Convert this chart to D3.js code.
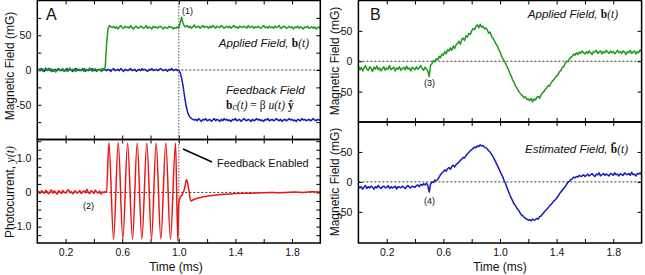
<!DOCTYPE html>
<html>
<head>
<meta charset="utf-8">
<title>Applied and feedback field traces</title>
<script src="https://d3js.org/d3.v7.min.js"></script>
<style>
    body { margin: 0; background: #fff; }
    svg { font-family: "Liberation Sans", Arial, sans-serif; }
    .frame { fill: none; stroke: #000; stroke-width: 1.5px; }
    .axis text { font-size: 10.5px; fill: #111; }
    .axis line { stroke: #000; stroke-width: 1px; }
    .zero { stroke: #000; stroke-width: 0.8px; stroke-dasharray: 2,2; }
    .trace { fill: none; stroke-width: 1.5px; stroke-linejoin: round; }
    .title { font-size: 12px; fill: #111; }
    .note { font-size: 11.5px; fill: #111; font-style: italic; }
    .tag { font-size: 9px; fill: #111; }
    .serif { font-family: "Liberation Serif", "DejaVu Serif", serif; }
</style>
</head>
<body>
<script>
    // sample grid of the scope traces, ms (one sample every 0.01 ms)
    var sampleTimes = d3.range(0, 201).map(function(i) { return i / 100; });

    // panel A, applied field b(t), mG
    var appliedA = [
        1,-1,2,0,-2,1,3,-1,0,2, -2,1,0,-3,1,2,-1,0,2,-1, 1,-2,0,3,-1,1,0,-2,2,1,
        -1,0,2,-2,1,0,-1,3,0,-2, 1,2,-1,0,1,-2,2,0,
        4,38,60,64,62,
        61,63,60,62,59,62,64,61,60,63, 61,62,60,64,61,59,62,63,60,61, 63,62,60,61,64,60,62,61,59,63,
        61,62,60,62,63,61,59,62,61,60, 63,61,62,59,61,60,62,
        60,68,76,67,63,
        62,64,61,63,60,62,65,61,62,63, 60,62,64,61,63,62,60,63,61,64,
        62,60,63,62,61,64,62,60,62,63, 61,63,60,62,64,61,62,60,63,62,
        61,63,62,60,64,61,62,63,60,62, 61,63,61,60,62,64,61,62,60,63,
        61,62,60,63,61,62,64,60,61,63, 62,60,61,63,61,62,59,62,61,63,
        60,62,61,59,62,61,63,60,61,62, 60,62,59,61,62,60
    ];

    // panel A, feedback field b_c(t), mG
    var feedbackA = [
        0,1,-1,2,0,-2,1,0,2,-1, 1,-2,0,1,-1,2,0,-1,1,-2, 0,2,-1,1,0,-2,1,2,-1,0,
        1,-1,0,2,-2,1,-1,0,1,2, -1,0,-2,1,0,1,-1,2,0,-1, 1,0,-2,1,2,-1,0,1,-1,2,
        0,-2,1,0,-1,1,2,-1,0,1, -2,0,1,-1,2,0,1,-1,-2,1, 0,2,-1,0,1,-1,0,2,1,-1,
        0,1,-2,1,0,2,-1,0,1,-1, 0,
        -4,-12,-23,-37,-50,-59,-65,-68,-70,-71,
        -72,-71,-73,-70,-72,-74,-71,-72,-70,-73, -72,-71,-74,-72,-70,-73,-71,-72,-74,-71,
        -73,-70,-72,-71,-73,-72,-74,-71,-72,-70, -73,-72,-71,-74,-72,-70,-72,-73,-71,-72,
        -74,-71,-73,-72,-70,-72,-71,-73,-72,-74, -71,-72,-70,-73,-72,-71,-73,-72,-70,-72,
        -73,-71,-74,-72,-71,-73,-72,-70,-72,-71, -73,-72,-74,-71,-72,-73,-70,-72,-71,-73,
        -72,-71,-73,-72,-70,-72,-73,-71,-72,-72
    ];

    // panel A, photocurrent y(t): quiet part sampled every 0.01 ms
    var photoQuiet = [
        0.00,0.03,-0.02,0.05,0.01,-0.03,0.06,0.02,-0.04,0.03,
        0.07,-0.02,0.04,0.00,-0.05,0.05,0.02,-0.03,0.06,0.01,
        -0.02,0.04,0.08,-0.01,0.03,-0.04,0.02,0.05,-0.02,0.01,
        0.06,-0.03,0.02,0.04,-0.01,0.09,0.00,-0.04,0.05,0.02,
        -0.03,0.07,0.01,-0.02,0.04,-0.05,0.02,-0.01
    ];
    // then the precession and the feedback transient, [ms, value]
    var photoSwing = [
        [0.48, 0.03], [0.489, 0.0], [0.506, 1.46], [0.539, -1.37], [0.572, 1.46], [0.605, -1.37],
        [0.638, 1.45], [0.673, -1.37], [0.706, 1.45], [0.739, -1.37], [0.774, 1.45], [0.807, -1.37],
        [0.840, 1.45], [0.873, -1.37], [0.908, 1.45], [0.941, -1.37], [0.977, 1.45], [0.993, -1.42],
        [1.000, -0.30], [1.010, -0.15], [1.025, -0.05], [1.040, 0.10], [1.055, 0.38], [1.070, 0.10],
        [1.085, -0.25], [1.10, -0.22], [1.13, -0.17], [1.17, -0.13], [1.22, -0.10], [1.28, -0.07],
        [1.34, -0.05], [1.40, -0.03], [1.46, -0.02], [1.52, -0.02], [1.58, -0.01], [1.64, 0.0],
        [1.70, -0.01], [1.76, 0.0], [1.82, 0.01], [1.88, 0.0], [1.94, 0.02], [2.0, 0.01]
    ];

    // panel B, applied field b(t), mG
    var appliedB = [
        -8,-14,-10,-16,-11,-7,-13,-15,-9,-12, -17,-10,-13,-8,-14,-11,-16,-12,-9,-15,
        -11,-13,-7,-14,-12,-10,-16,-11,-13,-9, -15,-12,-10,-14,-8,-13,-11,-16,-10,-12,
        -14,-9,-13,-11,-7,-12,-15,-10,
        -12,-16,-25,-6,-4,1,-1,4,2,8,6,12,10,
        16,12,19,17,22,18,25,21,27,29,
        33,28,36,38,34,42,40,46,44,50,
        54,52,57,60,55,61,56,58,53,55,
        52,46,48,41,38,34,29,26,20,16,
        9,4,1,-4,-9,-14,-20,-25,-31,-35,
        -41,-44,-49,-52,-55,-57,-60,-58,-63,-62,
        -65,-61,-67,-62,-64,-59,-58,-61,-55,-52,
        -50,-46,-44,-40,-41,-36,-33,-30,-27,-24,
        -22,-17,-15,-10,-9,-4,0,-1,4,6,
        8,12,10,14,11,15,13,17,14,12,
        16,13,17,14,11,16,15,18,13,15, 17,12,16,14,18,15,13,17,14,16,
        12,15,18,14,16,13,17,15,11,16, 14,18,13,15,17,12,16,14,19,15
    ];

    // panel B, estimated field, mG
    var estimatedB = [
        -7,-10,-8,-12,-9,-6,-11,-8,-10,-7, -9,-12,-8,-10,-6,-9,-11,-8,-7,-10,
        -9,-6,-11,-8,-10,-9,-7,-12,-8,-9, -10,-7,-9,-11,-8,-6,-9,-10,-7,-8,
        -9,-6,-5,-8,-4,-6,-3,-5,
        -2,-6,-17,-3,0,-1,3,2,4,8,12,15,17,
        20,18,22,24,21,26,28,25,29,31,
        33,36,38,41,40,44,47,49,52,54,
        56,58,57,60,59,62,60,61,58,57,
        55,52,50,46,42,38,33,28,23,18,
        13,8,2,-3,-10,-16,-22,-27,-32,-37,
        -40,-44,-47,-51,-55,-56,-59,-61,-62,-64,
        -63,-65,-62,-64,-63,-61,-62,-58,-57,-54,
        -51,-48,-46,-43,-40,-38,-35,-32,-30,-27,
        -24,-20,-17,-14,-11,-8,-4,-1,1,4,
        5,8,7,9,8,11,9,10,12,9,
        11,13,10,12,14,11,9,13,12,15, 10,12,14,11,13,12,10,14,13,11,
        15,12,13,10,14,12,11,15,13,12, 14,11,16,12,13,10,14,13,15,12
    ];

    var timeTicks = [0.2, 0.4, 0.6, 0.8, 1.0, 1.2, 1.4, 1.6, 1.8];
    var timeLabels = [0.2, 0.6, 1.0, 1.4, 1.8];
    var fieldTicksA = [-75, -50, -25, 0, 25, 50, 75];
    var fieldLabels = [-50, 0, 50];
    var photoTicks = [-1.25, -1, -0.75, -0.5, -0.25, 0, 0.25, 0.5, 0.75, 1, 1.25, 1.5];
    var photoLabels = [-1, 0, 1];
    var fieldTicksB = [-50, 0, 50];

    var width = 645, height = 275;
    var svg = d3.select("body").append("svg")
        .attr("width", width)
        .attr("height", height);

    var xA = d3.scaleLinear().domain([0, 2]).range([37.3, 320.3]);
    var xB = d3.scaleLinear().domain([0, 2]).range([358.4, 641.6]);
    var yAtop = d3.scaleLinear().domain([-100, 100]).range([139.5, 0.5]);
    var yAbot = d3.scaleLinear().domain([-1.48, 1.55]).range([243, 139.5]);
    var yBtop = d3.scaleLinear().domain([-100, 100]).range([122, 0.5]);
    var yBbot = d3.scaleLinear().domain([-102, 100]).range([243, 122]);

    function fmtTime(v) {
        return timeLabels.some(function(l) { return Math.abs(l - v) < 1e-6; }) ? v.toFixed(1) : "";
    }

    var clipId = 0;

    // one boxed subplot, ticks inside on all four sides
    function subplot(x, y, yTicks, yFmt, showTime) {
        var x0 = x.range()[0], x1 = x.range()[1];
        var y0 = y.range()[1], y1 = y.range()[0];
        var g = svg.append("g");

        g.append("line").attr("class", "zero")
            .attr("x1", x0).attr("x2", x1)
            .attr("y1", y(0)).attr("y2", y(0));

        g.append("g").attr("class", "axis")
            .attr("transform", "translate(" + x0 + ",0)")
            .call(d3.axisLeft(y).tickValues(yTicks).tickSize(-4).tickPadding(6).tickFormat(yFmt))
            .call(function(a) { a.select(".domain").remove(); });
        g.append("g").attr("class", "axis")
            .attr("transform", "translate(" + x1 + ",0)")
            .call(d3.axisRight(y).tickValues(yTicks).tickSize(-4).tickFormat(""))
            .call(function(a) { a.select(".domain").remove(); });
        g.append("g").attr("class", "axis")
            .attr("transform", "translate(0," + y0 + ")")
            .call(d3.axisTop(x).tickValues(timeTicks).tickSize(-4).tickFormat(""))
            .call(function(a) { a.select(".domain").remove(); });
        g.append("g").attr("class", "axis")
            .attr("transform", "translate(0," + y1 + ")")
            .call(d3.axisBottom(x).tickValues(timeTicks).tickSize(-4).tickPadding(6)
                .tickFormat(showTime ? fmtTime : ""))
            .call(function(a) { a.select(".domain").remove(); });

        var id = "clip" + (clipId++);
        svg.append("clipPath").attr("id", id)
            .append("rect")
            .attr("x", x0).attr("y", y0)
            .attr("width", x1 - x0).attr("height", y1 - y0);

        var plot = svg.append("g").attr("clip-path", "url(#" + id + ")");

        svg.append("rect").attr("class", "frame")
            .attr("x", x0).attr("y", y0)
            .attr("width", x1 - x0).attr("height", y1 - y0);

        return plot;
    }

    function fieldFmt(v) { return fieldLabels.indexOf(v) >= 0 ? String(v) : ""; }
    function photoFmt(v) {
        if (photoLabels.indexOf(v) < 0) return "";
        return v === 0 ? "0" : v.toFixed(1);
    }

    function sampled(plot, x, y, values, color) {
        plot.append("path")
            .datum(values)
            .attr("class", "trace")
            .attr("stroke", color)
            .attr("d", d3.line()
                .x(function(d, i) { return x(sampleTimes[i]); })
                .y(function(d) { return y(d); }));
    }

    var green = "#1e9a1e", blue = "#1a1ab4", red = "#ee1515";

    // panel A
    var pA1 = subplot(xA, yAtop, fieldTicksA, fieldFmt, false);
    sampled(pA1, xA, yAtop, feedbackA, blue);
    sampled(pA1, xA, yAtop, appliedA, green);

    var pA2 = subplot(xA, yAbot, photoTicks, photoFmt, true);
    var photo = photoQuiet.map(function(v, i) { return [sampleTimes[i], v]; }).concat(photoSwing);
    pA2.append("path")
        .datum(photo)
        .attr("class", "trace")
        .attr("stroke", red)
        .attr("d", d3.line()
            .curve(d3.curveMonotoneX)
            .x(function(d) { return xA(d[0]); })
            .y(function(d) { return yAbot(d[1]); }));

    // feedback switched on at 1.0 ms
    svg.append("line")
        .attr("x1", xA(1)).attr("x2", xA(1))
        .attr("y1", 0).attr("y2", 243)
        .attr("stroke", "#555")
        .attr("stroke-width", 1)
        .attr("stroke-dasharray", "1.5,1.5");

    // panel B
    var pB1 = subplot(xB, yBtop, fieldTicksB, fieldFmt, false);
    sampled(pB1, xB, yBtop, appliedB, green);
    var pB2 = subplot(xB, yBbot, fieldTicksB, fieldFmt, true);
    sampled(pB2, xB, yBbot, estimatedB, blue);

    // labels
    function ytitle(x, y) {
        return svg.append("text")
            .attr("class", "title")
            .attr("text-anchor", "middle")
            .attr("transform", "translate(" + x + "," + y + ") rotate(-90)");
    }
    ytitle(14, 66).text("Magnetic Field (mG)");
    var pt = ytitle(14, 192);
    pt.append("tspan").text("Photocurrent, ");
    pt.append("tspan").attr("class", "serif").attr("font-style", "italic").text("y(t)");
    ytitle(339, 61).text("Magnetic Field (mG)");
    ytitle(339, 182).text("Magnetic Field (mG)");

    svg.append("text").attr("class", "title").attr("font-size", "12.5px")
        .attr("x", 176).attr("y", 271).attr("text-anchor", "middle").text("Time (ms)");
    svg.append("text").attr("class", "title").attr("font-size", "12.5px")
        .attr("x", 500).attr("y", 271).attr("text-anchor", "middle").text("Time (ms)");

    svg.append("text").attr("x", 46).attr("y", 20).attr("font-size", "16px").attr("fill", "#111").text("A");
    svg.append("text").attr("x", 370).attr("y", 20).attr("font-size", "16px").attr("fill", "#111").text("B");

    svg.append("text").attr("class", "tag").attr("x", 182).attr("y", 14).text("(1)");
    svg.append("text").attr("class", "tag").attr("x", 83).attr("y", 209).text("(2)");
    svg.append("text").attr("class", "tag").attr("x", 424).attr("y", 86).text("(3)");
    svg.append("text").attr("class", "tag").attr("x", 424).attr("y", 204).text("(4)");

    function fieldNote(x, y, words, sym) {
        var t = svg.append("text").attr("class", "note")
            .attr("x", x).attr("y", y).attr("text-anchor", "end");
        t.append("tspan").text(words);
        t.append("tspan").attr("class", "serif").attr("font-style", "normal")
            .attr("font-weight", "bold").text(sym);
        t.append("tspan").attr("class", "serif").text("(t)");
        return t;
    }
    fieldNote(309, 47, "Applied Field, ", "b");
    fieldNote(618, 18, "Applied Field, ", "b");
    fieldNote(628, 153, "Estimated Field, ", "b\u0303");

    svg.append("text").attr("class", "note").attr("x", 226).attr("y", 94).text("Feedback Field");
    var eq = svg.append("text").attr("class", "serif")
        .attr("x", 226).attr("y", 109).attr("font-size", "11.5px").attr("fill", "#111");
    eq.append("tspan").attr("font-weight", "bold").text("b");
    eq.append("tspan").attr("font-style", "italic").attr("font-size", "9.5px").attr("dy", 1).text("c");
    eq.append("tspan").attr("font-style", "italic").attr("dy", -1).text("(t)");
    eq.append("tspan").text(" = \u03b2 ");
    eq.append("tspan").attr("font-style", "italic").text("u(t) ");
    eq.append("tspan").attr("font-weight", "bold").text("\u0177");

    svg.append("line")
        .attr("x1", 183).attr("y1", 149)
        .attr("x2", 212).attr("y2", 162)
        .attr("stroke", "#000").attr("stroke-width", 1.5);
    svg.append("text").attr("x", 217).attr("y", 167)
        .attr("font-size", "11px").attr("fill", "#111").text("Feedback Enabled");
</script>
</body>
</html>
